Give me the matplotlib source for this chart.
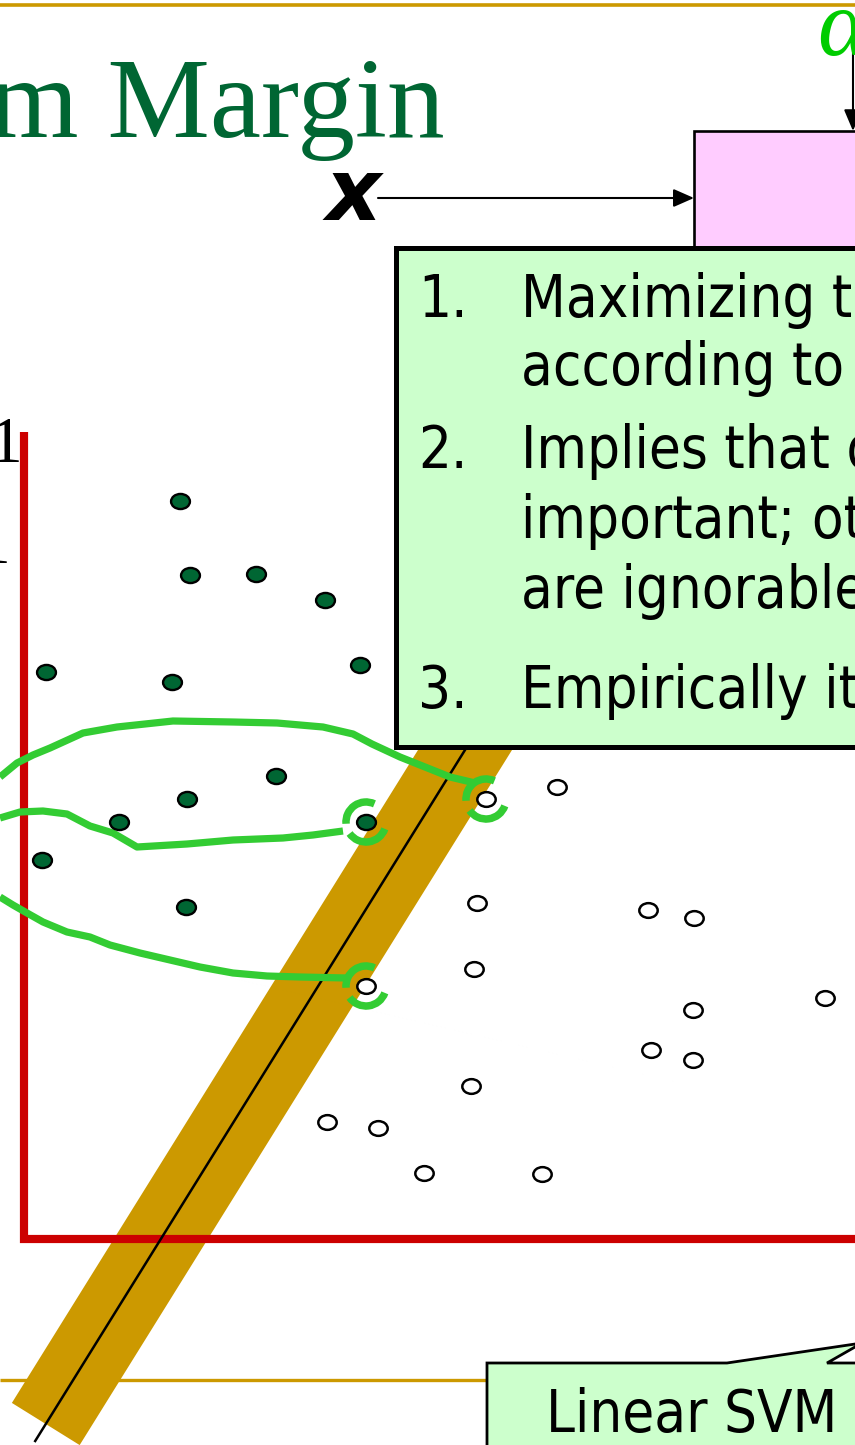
import numpy as np
import matplotlib
matplotlib.use("Agg")
import matplotlib.pyplot as plt
from matplotlib.patches import Polygon, Rectangle, Arc
from matplotlib.path import Path
from matplotlib.markers import MarkerStyle
from matplotlib.transforms import Affine2D

W, H = 855, 1445

# training samples of class +1 (filled) and class -1 (hollow), canvas pixels
pos_x = [180, 190, 256, 325, 46, 172, 360, 276, 187, 119, 366, 42, 186]
pos_y = [501, 575, 574, 600, 672, 682, 665, 776, 799, 822, 822, 860, 907]
neg_x = [557, 486, 477, 648, 694, 474, 366, 693, 825, 651, 693, 471, 327, 378, 424, 542]
neg_y = [787, 799, 903, 910, 918, 969, 986, 1010, 998, 1050, 1060, 1086, 1122, 1128, 1173, 1174]

# support vectors (indices into the sample lists)
sv_pos = [10]
sv_neg = [1, 6]

# freehand strokes tying the support vectors together
stroke_a_x = [0, 17, 33, 50, 83, 117, 173, 233, 277, 323, 353, 372, 400, 425, 450, 475]
stroke_a_y = [777, 763, 755, 748, 733, 727, 721, 722, 723, 727, 734, 744, 757, 767, 777, 783]
stroke_b_x = [0, 20, 43, 67, 90, 113, 137, 187, 233, 283, 313, 343]
stroke_b_y = [818, 812, 811, 814, 826, 833, 847, 844, 840, 838, 835, 831]
stroke_c_x = [0, 13, 27, 43, 67, 90, 110, 140, 170, 200, 233, 267, 300, 347]
stroke_c_y = [897, 905, 913, 922, 932, 937, 945, 953, 960, 967, 973, 976, 977, 978]

# callout text
title_text = "m Margin"
numbers = ["1.", "2.", "3."]
item_lines = [
    ["Maximizing the margin is good", "according to intuition and PAC theory"],
    ["Implies that only support vectors are", "important; other training examples", "are ignorable."],
    ["Empirically it works very very well."],
]
svm_label = "Linear SVM"

# colours
GOLD = "#CC9900"
RED = "#CC0000"
DARK_GREEN = "#006633"
STROKE_GREEN = "#33CC33"
BOX_GREEN = "#CCFFCC"
PINK = "#FFCCFF"
ALPHA_GREEN = "#00CC00"

BODY_FONT = dict(family="DejaVu Sans", stretch="condensed")
BODY_SIZE = 41.6

fig = plt.figure(figsize=(W / 100, H / 100), dpi=100)
ax = fig.add_axes([0, 0, 1, 1])
ax.set_xlim(0, W)
ax.set_ylim(H, 0)
ax.axis("off")

# slide rules
ax.plot([0, W], [5, 5], color=GOLD, lw=2.6, solid_capstyle="butt", zorder=1)
ax.plot([0, 490], [1380, 1380], color=GOLD, lw=2.4, solid_capstyle="butt", zorder=1)

# title
ax.text(445, 137, title_text, ha="right", va="baseline", fontsize=83,
        family="Liberation Serif", color=DARK_GREEN, zorder=5)

# margin band around the separating hyperplane
slope = -0.622          # dx per dy of the hyperplane
x_ref, y_ref = 465, 750
half_w = 47             # horizontal half-width of the margin band


def centre_x(y):
    return x_ref + slope * (y - y_ref)


norm = np.hypot(slope, 1.0)
nvec = np.array([1.0, -slope]) / norm
p = half_w / norm
c_top = np.array([centre_x(690), 690])
c_bot = np.array([centre_x(1424), 1424])
band = Polygon([c_top - p * nvec, c_top + p * nvec, c_bot + p * nvec, c_bot - p * nvec],
               closed=True, facecolor=GOLD, edgecolor="none", zorder=2)
ax.add_patch(band)

# feature axes
ax.plot([24, 24, 860], [432, 1239, 1239], color=RED, lw=5.9,
        solid_joinstyle="miter", solid_capstyle="butt", zorder=3)
ax.text(22, 462, "1", ha="right", va="baseline", fontsize=47,
        family="Liberation Serif", color="black", zorder=3)
ax.text(10, 563, "1", ha="right", va="baseline", fontsize=47,
        family="Liberation Serif", color="black", zorder=3)

# hyperplane
ys = np.array([700, 1441])
ax.plot(centre_x(ys), ys, color="black", lw=1.8, zorder=4)

# freehand strokes
for sx, sy in [(stroke_a_x, stroke_a_y), (stroke_b_x, stroke_b_y), (stroke_c_x, stroke_c_y)]:
    ax.plot(sx, sy, color=STROKE_GREEN, lw=5.2, solid_capstyle="butt",
            solid_joinstyle="round", zorder=5)

# broken rings around support vectors
sv_pts = [(pos_x[i], pos_y[i]) for i in sv_pos] + [(neg_x[i], neg_y[i]) for i in sv_neg]
for (cx, cy) in sv_pts:
    for t1, t2 in [(175, 295), (20, 145)]:
        ax.add_patch(Arc((cx, cy), 40, 40, theta1=t1, theta2=t2,
                         color=STROKE_GREEN, lw=5.4, zorder=5))

# samples as slightly flattened dots
ell = Path.unit_circle().transformed(Affine2D().scale(1.0, 0.8))
marker = MarkerStyle(ell)
ax.scatter(pos_x, pos_y, s=185, marker=marker, facecolor=DARK_GREEN,
           edgecolor="black", linewidths=1.7, zorder=6)
ax.scatter(neg_x, neg_y, s=175, marker=marker, facecolor="white",
           edgecolor="black", linewidths=1.8, zorder=6)

# model diagram: input arrow, box and parameter arrow
ax.add_patch(Rectangle((694, 131), 300, 140, facecolor=PINK, edgecolor="black",
                       lw=1.9, zorder=7))
ax.annotate("", xy=(694, 198), xytext=(378, 198),
            arrowprops=dict(arrowstyle="-|>,head_length=1.25,head_width=0.55",
                            mutation_scale=10, lw=1.5, color="black",
                            shrinkA=0, shrinkB=0), zorder=7)
ax.text(381, 220, "x", ha="right", va="baseline", fontsize=62,
        family="DejaVu Sans", weight="bold", style="oblique", color="black", zorder=7)
ax.annotate("", xy=(853, 131), xytext=(853, 48),
            arrowprops=dict(arrowstyle="-|>,head_length=1.3,head_width=0.55",
                            mutation_scale=10, lw=1.5, color="black",
                            shrinkA=0, shrinkB=0), zorder=7)
ax.text(817, 55, "α", ha="left", va="baseline", fontsize=69,
        family="Liberation Serif", style="italic", color=ALPHA_GREEN, zorder=7)

# key points box
ax.add_patch(Rectangle((395.5, 247.5), 600, 499.5, facecolor=BOX_GREEN,
                       edgecolor="black", lw=3.6, zorder=8))
baselines = [[317, 385], [468, 538, 608], [708]]
for num, lines, bls in zip(numbers, item_lines, baselines):
    ax.text(418, bls[0], num, ha="left", va="baseline", fontsize=BODY_SIZE,
            color="black", zorder=9, **BODY_FONT)
    for line, bl in zip(lines, bls):
        ax.text(521, bl, line, ha="left", va="baseline", fontsize=BODY_SIZE,
                color="black", zorder=9, **BODY_FONT)

# label callout
callout = Polygon([(487, 1470), (487, 1363), (727, 1363), (862, 1343),
                   (827, 1363), (900, 1363), (900, 1470)],
                  closed=True, facecolor=BOX_GREEN, edgecolor="black", lw=2.0, zorder=8)
ax.add_patch(callout)
ax.text(546, 1432, svm_label, ha="left", va="baseline", fontsize=BODY_SIZE,
        color="black", zorder=9, **BODY_FONT)

fig.savefig("out.png", dpi=100)
